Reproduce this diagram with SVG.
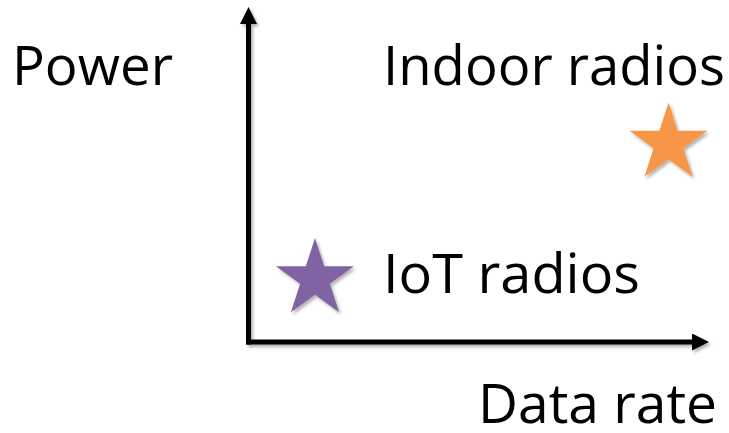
<svg xmlns="http://www.w3.org/2000/svg" xmlns:xlink="http://www.w3.org/1999/xlink" width="729" height="433" viewBox="0 0 729 433">
<style>
text{font-family:"Open Sans","Liberation Sans",sans-serif;font-size:54px;fill:#000}
.axis{stroke:#000;stroke-width:5;fill:none}
</style>
<defs>
<filter id="sh" x="-20%" y="-20%" width="150%" height="150%">
<feDropShadow dx="2" dy="2.5" stdDeviation="1.5" flood-color="#000" flood-opacity="0.3"/>
</filter>
<marker id="ah" markerUnits="userSpaceOnUse" markerWidth="18" markerHeight="18" refX="0" refY="8.5" orient="auto">
<path d="M0,0 L17,8.5 L0,17 z" fill="#000"/>
</marker>
<polygon id="star" points="0,-41 9.21,-12.67 38.99,-12.67 14.9,4.84 24.1,33.17 0,15.66 -24.1,33.17 -14.9,4.84 -38.99,-12.67 -9.21,-12.67"/>
</defs>
<g id="connectors" filter="url(#sh)">
<line class="axis" x1="248.5" y1="344.5" x2="248.5" y2="24" marker-end="url(#ah)"/>
<line class="axis" x1="246" y1="342" x2="692" y2="342" marker-end="url(#ah)"/>
</g>
<g id="power-label"><text x="12" y="85" textLength="161" lengthAdjust="spacingAndGlyphs">Power</text></g>
<g id="datarate-label"><text x="478" y="423" textLength="239" lengthAdjust="spacingAndGlyphs">Data rate</text></g>
<g id="indoor"><use xlink:href="#star" transform="translate(668.5,143.5)" fill="#F79646" filter="url(#sh)"/>
<text x="383" y="85" textLength="342" lengthAdjust="spacingAndGlyphs">Indoor radios</text></g>
<g id="iot"><use xlink:href="#star" transform="translate(315,279)" fill="#8064A2" filter="url(#sh)"/>
<text x="383" y="293" textLength="257" lengthAdjust="spacingAndGlyphs">IoT radios</text></g>
</svg>
